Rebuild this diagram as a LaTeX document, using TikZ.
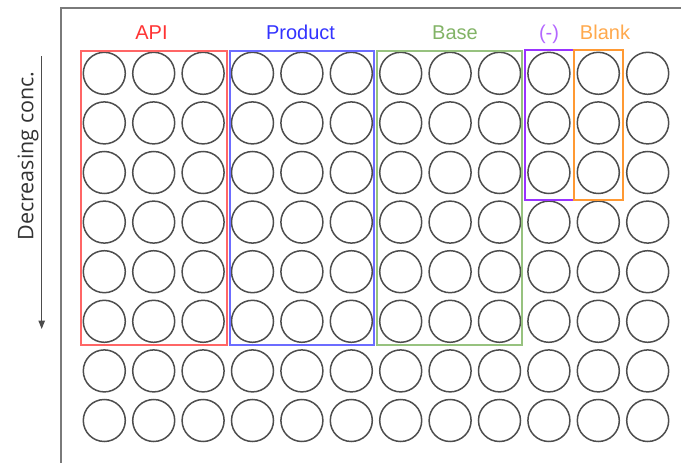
\documentclass[tikz,border=0pt]{standalone}
\usepackage{fontspec}
\setmainfont{Liberation Sans}
\newfontfamily\axisfont{Open Sans}
\usetikzlibrary{arrows.meta,fit}

\definecolor{plateline}{HTML}{7A7A7A}
\definecolor{wellline}{HTML}{4D4D4D}
\definecolor{apiC}{HTML}{FF6666}
\definecolor{apiT}{HTML}{FF3333}
\definecolor{prodC}{HTML}{6C6CFF}
\definecolor{prodT}{HTML}{3333FF}
\definecolor{baseC}{HTML}{97C27F}
\definecolor{baseT}{HTML}{82B366}
\definecolor{negC}{HTML}{9933FF}
\definecolor{negT}{HTML}{B366FF}
\definecolor{blankC}{HTML}{FF9933}
\definecolor{blankT}{HTML}{FFA94D}

\begin{document}
\begin{tikzpicture}[x=1pt,y=-1pt,
  well/.style={circle,draw=wellline,line width=1.5pt,minimum size=42pt,inner sep=0pt},
  group/.style={draw=#1,line width=2pt,inner sep=0pt,rectangle},
  grouplabel/.style={text=#1,font=\fontsize{20}{24}\selectfont,anchor=base,inner sep=0pt},
  plate/.style={draw=plateline,line width=1.8pt},
  conc/.style={line width=1.1pt,draw=black!70,-{Triangle[width=6.5pt,length=8.5pt]}}]

  \useasboundingbox (0,0) rectangle (681,463);

  % plate outline (top and left edges)
  \coordinate (plateTR) at (684,8.3);
  \coordinate (plateTL) at (61,8.3);
  \coordinate (plateBL) at (61,466);
  \draw[plate] (plateTR) -- (plateTL) -- (plateBL);

  % 8 x 12 wells
  \foreach \r in {1,...,8} {
    \foreach \c in {1,...,12} {
      \node[well] (w-\r-\c) at ({104.3+49.4*(\c-1)},{73.3+49.6*(\r-1)}) {};
    }
  }

  % sample groups
  \node[group=apiC,fit={(81,50.5)(227,344.5)}] (gAPI) {};
  \node[group=prodC,fit={(230,50.5)(374,344.5)}] (gProd) {};
  \node[group=baseC,fit={(377,50.5)(522,344.5)}] (gBase) {};
  \node[group=negC,fit={(524.5,50)(574,199.5)}] (gNeg) {};
  \node[group=blankC,fit={(574,49.5)(623.3,199.5)}] (gBlank) {};

  % group labels
  \node[grouplabel=apiT] (tAPI) at (151.5,39.5) {API};
  \node[grouplabel=prodT] (tProd) at (300.5,39.5) {Product};
  \node[grouplabel=baseT] (tBase) at (455,39.5) {Base};
  \node[grouplabel=negT] (tNeg) at (549,39.5) {(-)};
  \node[grouplabel=blankT] (tBlank) at (605,39.5) {Blank};

  % concentration direction
  \coordinate (concTop) at (41.7,56);
  \coordinate (concEnd) at (41.7,329);
  \draw[conc] (concTop) -- (concEnd);
  \node[rotate=90,anchor=base,inner sep=0pt,text=black!80,
        font=\axisfont\fontsize{21.5}{25}\selectfont] (concLbl) at (33.5,156) {Decreasing conc.};
\end{tikzpicture}
\end{document}
